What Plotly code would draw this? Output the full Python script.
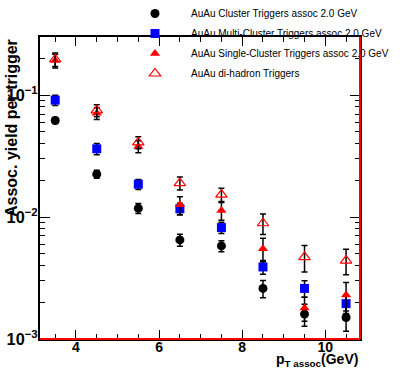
import plotly.graph_objects as go

pt = [3.5, 4.5, 5.5, 6.5, 7.5, 8.5, 9.5, 10.5]

cluster = [0.062, 0.0225, 0.0118, 0.0065, 0.0058, 0.0026, 0.0016, 0.0015]
cluster_err = [0.0035, 0.0017, 0.0011, 0.00074, 0.0006, 0.00042, 0.00033, 0.00034]

multi = [0.091, 0.0363, 0.0186, 0.0117, 0.0082, 0.0039, 0.0026, 0.00195]
multi_err = [0.0086, 0.0038, 0.00175, 0.0013, 0.00085, 0.0005, 0.0004, 0.00033]

single = [0.192, 0.071, 0.038, 0.0126, 0.0113, 0.0055, 0.0018, 0.0023]
single_err = [0.025, 0.008, 0.0043, 0.0021, 0.0019, 0.0012, 0.0004, 0.0006]

dihadron = [0.197, 0.075, 0.041, 0.019, 0.0153, 0.0089, 0.0047, 0.0044]
dihadron_err = [0.025, 0.0085, 0.0046, 0.0023, 0.0019, 0.0017, 0.00115, 0.00104]

names = ["AuAu Cluster Triggers assoc 2.0 GeV",
         "AuAu Multi-Cluster Triggers assoc 2.0 GeV",
         "AuAu Single-Cluster Triggers assoc 2.0 GeV",
         "AuAu di-hadron Triggers"]

def eb(err):
    return dict(type="data", array=err, visible=True, color="black",
                thickness=1.5, width=3)

fig = go.Figure()
fig.add_trace(go.Scatter(x=pt, y=cluster, mode="markers", name=names[0], legendgroup="a",
                         marker=dict(symbol="circle", size=9, color="black"),
                         error_y=eb(cluster_err)))
fig.add_trace(go.Scatter(x=pt, y=multi, mode="markers", name=names[1], legendgroup="b",
                         marker=dict(symbol="square", size=9, color="#0000ff"),
                         error_y=eb(multi_err)))
fig.add_trace(go.Scatter(x=pt, y=single, mode="markers", name=names[2], legendgroup="c",
                         marker=dict(symbol="triangle-up", size=9, color="#ff0000"),
                         error_y=eb(single_err)))
fig.add_trace(go.Scatter(x=pt, y=dihadron, mode="markers", name=names[3], legendgroup="d",
                         marker=dict(symbol="triangle-up-open", size=10, color="#ff0000",
                                     line=dict(width=1.2, color="#ff0000")),
                         error_y=eb(dihadron_err)))

fig.update_layout(
    width=401, height=377,
    margin=dict(l=40, r=41, t=37, b=38, autoexpand=False),
    paper_bgcolor="white", plot_bgcolor="white",
    font=dict(family="Liberation Sans, Arial, sans-serif", color="black"),
    showlegend=True,
    legend=dict(x=(119 - 40) / 320, y=1 + 38 / 302, xanchor="left", yanchor="top",
                bgcolor="rgba(0,0,0,0)", font=dict(size=10), itemwidth=62,
                tracegroupgap=1),
    xaxis=dict(range=[3.134, 10.835], showgrid=False, zeroline=False,
               tickmode="array", tickvals=[4, 6, 8, 10],
               ticks="inside", ticklen=9, tickwidth=1, tickcolor="black",
               mirror="ticks", showline=True, linecolor="black", linewidth=1.5,
               tickfont=dict(size=14, weight="bold"), ticklabelstandoff=-6,
               minor=dict(ticks="inside", ticklen=5, dtick=0.5, tick0=3,
                          tickcolor="black", showgrid=False)),
    yaxis=dict(type="log", range=[-3, -0.523], showgrid=False, zeroline=False,
               dtick=1, exponentformat="power", showexponent="all",
               ticks="inside", ticklen=10, tickwidth=1, tickcolor="black",
               mirror="ticks", showline=True, linecolor="black", linewidth=1.5,
               tickfont=dict(size=13, weight="bold"), ticklabelstandoff=-2,
               minor=dict(ticks="inside", ticklen=5, dtick="D1",
                          tickcolor="black", showgrid=False)),
    shapes=[
        dict(type="line", xref="paper", yref="paper", x0=0, x1=1, y0=0, y1=0,
             line=dict(color="#ff0000", width=2)),
        dict(type="line", xref="paper", yref="paper", x0=1, x1=1, y0=0, y1=1,
             line=dict(color="#ff0000", width=2)),
    ],
    annotations=[
        dict(text="<b>Assoc. yield per trigger</b>", xref="paper", yref="paper",
             x=(11 - 40) / 320, y=1, xanchor="center", yanchor="top",
             textangle=-90, showarrow=False, font=dict(size=16)),
        dict(text="<b>p<sub>T assoc</sub>(GeV)</b>", xref="paper", yref="paper",
             x=1, y=-0.032, xanchor="right", yanchor="top",
             showarrow=False, font=dict(size=14)),
    ],
)

fig.write_html("out.html", config={"displayModeBar": False},
               post_script="document.body.style.margin='0';")
